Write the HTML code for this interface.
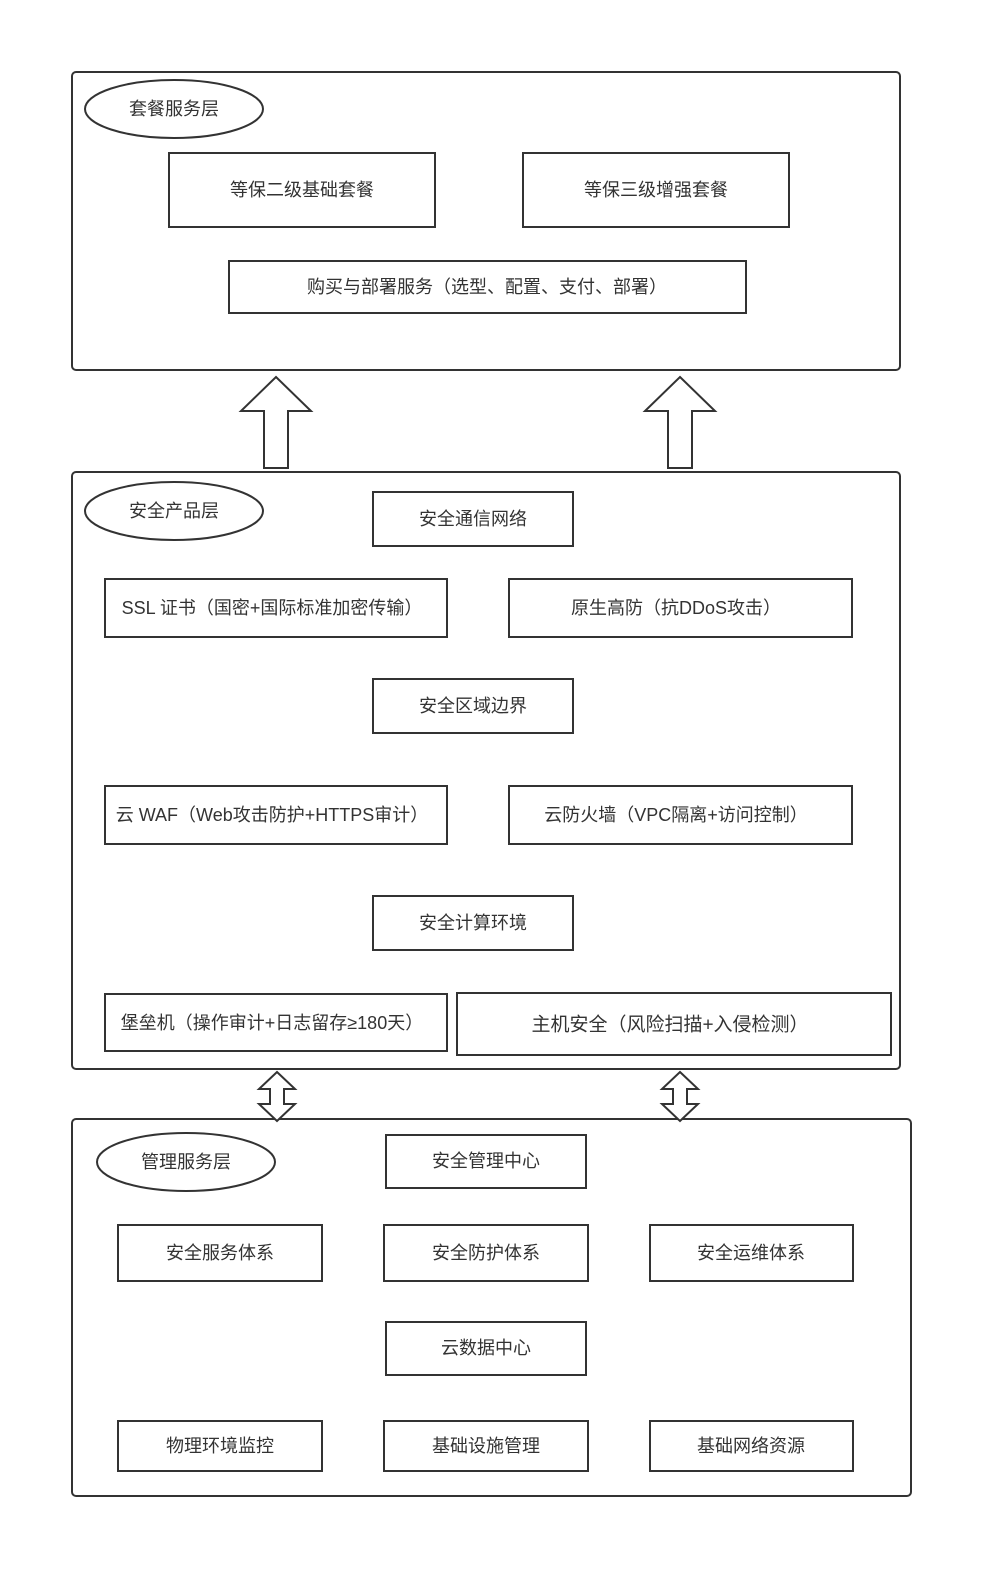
<!DOCTYPE html>
<html><head><meta charset="utf-8"><style>
html,body{margin:0;padding:0;background:#fff;}
svg text{font-family:"Liberation Sans","Noto Sans CJK SC",sans-serif;font-size:18px;fill:#333;}
</style></head><body>
<svg width="987" height="1575" viewBox="0 0 987 1575" xmlns="http://www.w3.org/2000/svg">
<g fill="#fff" stroke="#333" stroke-width="2">
<rect x="72" y="72" width="828" height="298" rx="4"/>
<rect x="72" y="472" width="828" height="597" rx="4"/>
<rect x="72" y="1119" width="839" height="377" rx="4"/>
<ellipse cx="174" cy="109" rx="89" ry="29"/>
<ellipse cx="174" cy="511" rx="89" ry="29"/>
<ellipse cx="186" cy="1162" rx="89" ry="29"/>
<rect x="169" y="153" width="266" height="74"/>
<rect x="523" y="153" width="266" height="74"/>
<rect x="229" y="261" width="517" height="52"/>
<rect x="373" y="492" width="200" height="54"/>
<rect x="105" y="579" width="342" height="58"/>
<rect x="509" y="579" width="343" height="58"/>
<rect x="373" y="679" width="200" height="54"/>
<rect x="105" y="786" width="342" height="58"/>
<rect x="509" y="786" width="343" height="58"/>
<rect x="373" y="896" width="200" height="54"/>
<rect x="105" y="994" width="342" height="57"/>
<rect x="457" y="993" width="434" height="62"/>
<rect x="386" y="1135" width="200" height="53"/>
<rect x="118" y="1225" width="204" height="56"/>
<rect x="384" y="1225" width="204" height="56"/>
<rect x="650" y="1225" width="203" height="56"/>
<rect x="386" y="1322" width="200" height="53"/>
<rect x="118" y="1421" width="204" height="50"/>
<rect x="384" y="1421" width="204" height="50"/>
<rect x="650" y="1421" width="203" height="50"/>
<polygon points="276,377 311,411 288,411 288,468 264,468 264,411 241,411"/>
<polygon points="680,377 715,411 692,411 692,468 668,468 668,411 645,411"/>
<polygon points="277,1072 295,1089 284,1089 284,1104 295,1104 277,1121 259,1104 270,1104 270,1089 259,1089"/>
<polygon points="680,1072 698,1089 687,1089 687,1104 698,1104 680,1121 662,1104 673,1104 673,1089 662,1089"/>
</g>
<g text-anchor="middle" dominant-baseline="central">
<text x="174" y="109">套餐服务层</text>
<text x="302" y="190">等保二级基础套餐</text>
<text x="656" y="190">等保三级增强套餐</text>
<text x="487" y="287">购买与部署服务（选型、配置、支付、部署）</text>
<text x="174" y="511">安全产品层</text>
<text x="473" y="519">安全通信网络</text>
<text x="272" y="608">SSL 证书（国密+国际标准加密传输）</text>
<text x="676" y="608">原生高防（抗DDoS攻击）</text>
<text x="473" y="706">安全区域边界</text>
<text x="272" y="815">云 WAF（Web攻击防护+HTTPS审计）</text>
<text x="676" y="815">云防火墙（VPC隔离+访问控制）</text>
<text x="473" y="923">安全计算环境</text>
<text x="272" y="1023">堡垒机（操作审计+日志留存≥180天）</text>
<text x="670" y="1025" style="font-size:19px">主机安全（风险扫描+入侵检测）</text>
<text x="186" y="1162">管理服务层</text>
<text x="486" y="1161">安全管理中心</text>
<text x="220" y="1253">安全服务体系</text>
<text x="486" y="1253">安全防护体系</text>
<text x="751" y="1253">安全运维体系</text>
<text x="486" y="1348">云数据中心</text>
<text x="220" y="1446">物理环境监控</text>
<text x="486" y="1446">基础设施管理</text>
<text x="751" y="1446">基础网络资源</text>
</g>
</svg>
</body></html>
